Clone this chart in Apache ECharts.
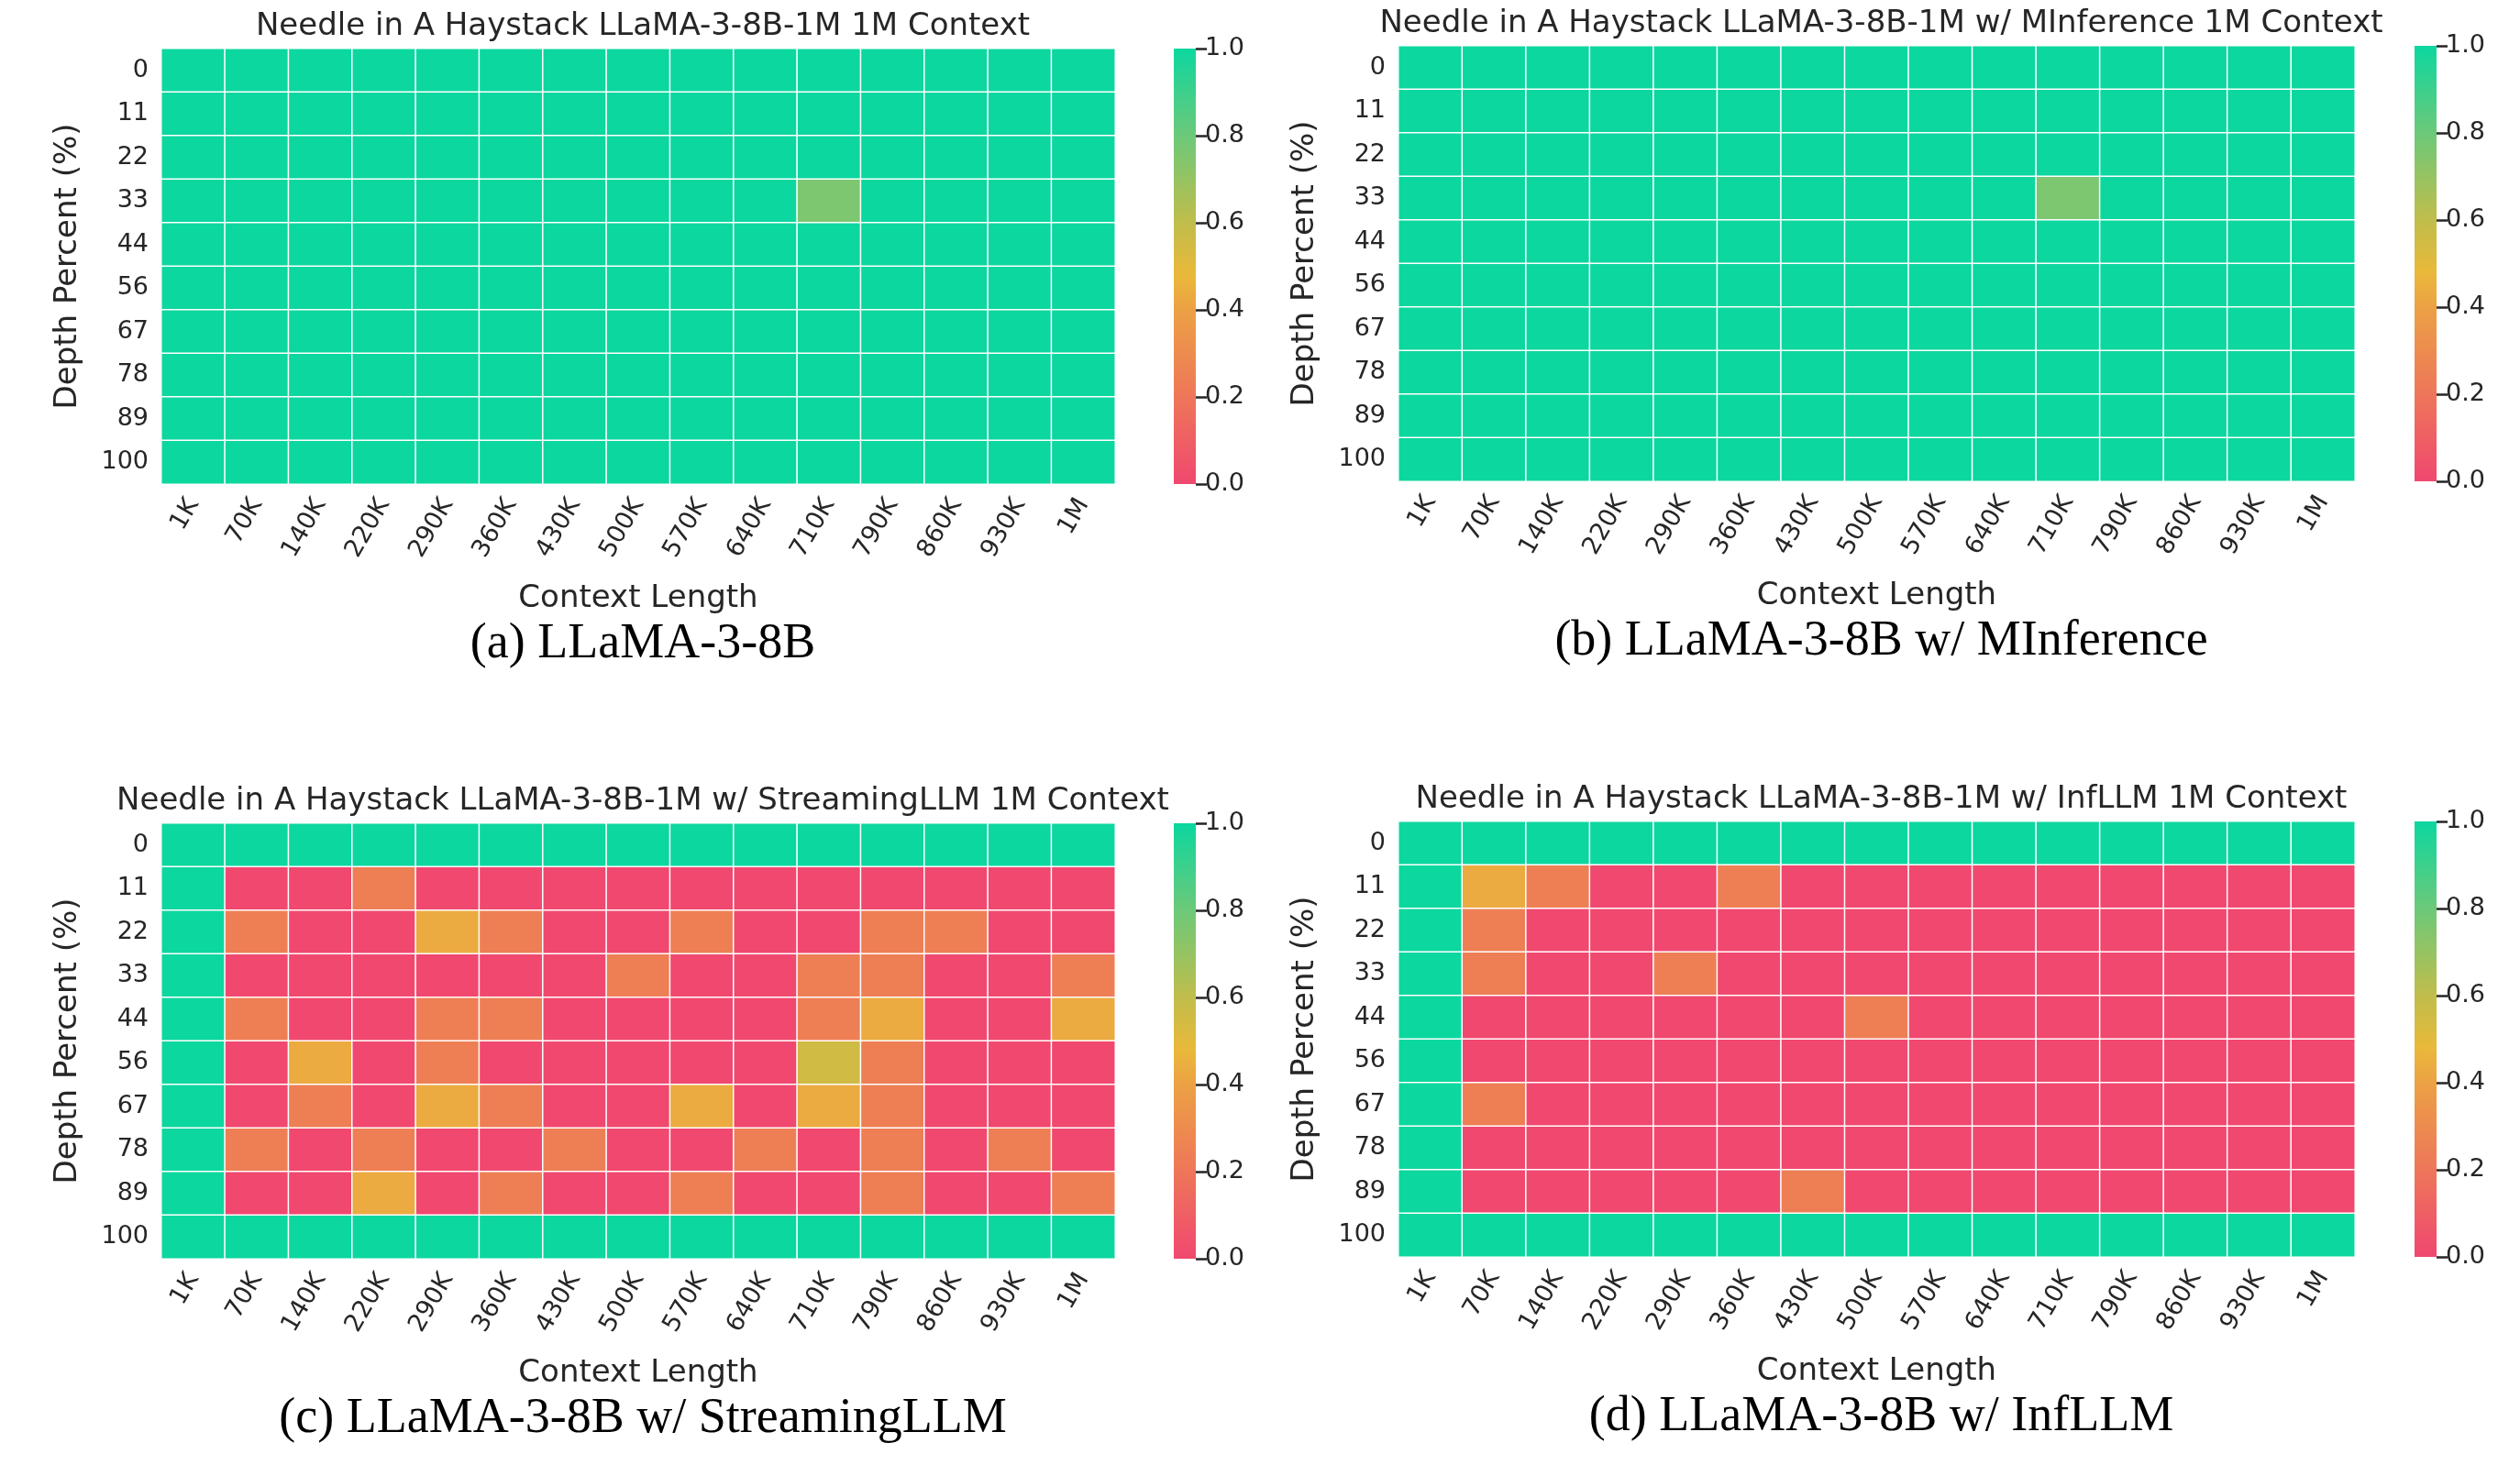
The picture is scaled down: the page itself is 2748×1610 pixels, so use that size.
<!DOCTYPE html>
<html>
<head>
<meta charset="utf-8">
<script src="https://cdn.jsdelivr.net/npm/echarts@6/dist/echarts.min.js"></script>
<style>
  html, body { margin: 0; padding: 0; background: #fff; }
  #chart { width: 2748px; height: 1610px; }
</style>
</head>
<body>
<div id="chart"></div>
<script>
const contextLengths = ['1K', '70K', '140K', '220K', '290K', '360K', '430K', '500K', '570K', '640K', '710K', '790K', '860K', '930K', '1M'];
const depthPercents = ['0', '11', '22', '33', '44', '56', '67', '78', '89', '100'];

// rows = depth, columns = context length
const scoresBase = [
  [1,1,1,1,1,1,1,1,1,1,1,1,1,1,1],
  [1,1,1,1,1,1,1,1,1,1,1,1,1,1,1],
  [1,1,1,1,1,1,1,1,1,1,1,1,1,1,1],
  [1,1,1,1,1,1,1,1,1,1,0.8,1,1,1,1],
  [1,1,1,1,1,1,1,1,1,1,1,1,1,1,1],
  [1,1,1,1,1,1,1,1,1,1,1,1,1,1,1],
  [1,1,1,1,1,1,1,1,1,1,1,1,1,1,1],
  [1,1,1,1,1,1,1,1,1,1,1,1,1,1,1],
  [1,1,1,1,1,1,1,1,1,1,1,1,1,1,1],
  [1,1,1,1,1,1,1,1,1,1,1,1,1,1,1]
];
const scoresMInference = [
  [1,1,1,1,1,1,1,1,1,1,1,1,1,1,1],
  [1,1,1,1,1,1,1,1,1,1,1,1,1,1,1],
  [1,1,1,1,1,1,1,1,1,1,1,1,1,1,1],
  [1,1,1,1,1,1,1,1,1,1,0.8,1,1,1,1],
  [1,1,1,1,1,1,1,1,1,1,1,1,1,1,1],
  [1,1,1,1,1,1,1,1,1,1,1,1,1,1,1],
  [1,1,1,1,1,1,1,1,1,1,1,1,1,1,1],
  [1,1,1,1,1,1,1,1,1,1,1,1,1,1,1],
  [1,1,1,1,1,1,1,1,1,1,1,1,1,1,1],
  [1,1,1,1,1,1,1,1,1,1,1,1,1,1,1]
];
const scoresStreaming = [
  [1,1,1,1,1,1,1,1,1,1,1,1,1,1,1],
  [1,0,0,0.2,0,0,0,0,0,0,0,0,0,0,0],
  [1,0.2,0,0,0.4,0.2,0,0,0.2,0,0,0.2,0.2,0,0],
  [1,0,0,0,0,0,0,0.2,0,0,0.2,0.2,0,0,0.2],
  [1,0.2,0,0,0.2,0.2,0,0,0,0,0.2,0.4,0,0,0.4],
  [1,0,0.4,0,0.2,0,0,0,0,0,0.6,0.2,0,0,0],
  [1,0,0.2,0,0.4,0.2,0,0,0.4,0,0.4,0.2,0,0,0],
  [1,0.2,0,0.2,0,0,0.2,0,0,0.2,0,0.2,0,0.2,0],
  [1,0,0,0.4,0,0.2,0,0,0.2,0,0,0.2,0,0,0.2],
  [1,1,1,1,1,1,1,1,1,1,1,1,1,1,1]
];
const scoresInfLLM = [
  [1,1,1,1,1,1,1,1,1,1,1,1,1,1,1],
  [1,0.4,0.2,0,0,0.2,0,0,0,0,0,0,0,0,0],
  [1,0.2,0,0,0,0,0,0,0,0,0,0,0,0,0],
  [1,0.2,0,0,0.2,0,0,0,0,0,0,0,0,0,0],
  [1,0,0,0,0,0,0,0.2,0,0,0,0,0,0,0],
  [1,0,0,0,0,0,0,0,0,0,0,0,0,0,0],
  [1,0.2,0,0,0,0,0,0,0,0,0,0,0,0,0],
  [1,0,0,0,0,0,0,0,0,0,0,0,0,0,0],
  [1,0,0,0,0,0,0.2,0,0,0,0,0,0,0,0],
  [1,1,1,1,1,1,1,1,1,1,1,1,1,1,1]
];
const colorbarTicks = [0, 0.2, 0.4, 0.6, 0.8, 1.0];

const palette = ['#f0486f', '#ee7659', '#eca144', '#e9b93a', '#c0bd4b', '#6cc979', '#0cd79f'];
const panels = [
  { title: 'Needle in A Haystack LLaMA-3-8B-1M 1M Context', caption: '(a) LLaMA-3-8B', data: scoresBase,
    left: 176, top: 53, width: 1040, height: 475, bar: 1280 },
  { title: 'Needle in A Haystack LLaMA-3-8B-1M w/ MInference 1M Context', caption: '(b) LLaMA-3-8B w/ MInference', data: scoresMInference,
    left: 1525, top: 50, width: 1043, height: 475, bar: 2633 },
  { title: 'Needle in A Haystack LLaMA-3-8B-1M w/ StreamingLLM 1M Context', caption: '(c) LLaMA-3-8B w/ StreamingLLM', data: scoresStreaming,
    left: 176, top: 898, width: 1040, height: 475, bar: 1280 },
  { title: 'Needle in A Haystack LLaMA-3-8B-1M w/ InfLLM 1M Context', caption: '(d) LLaMA-3-8B w/ InfLLM', data: scoresInfLLM,
    left: 1525, top: 896, width: 1043, height: 475, bar: 2633 }
];

const font = 'DejaVu Sans';
const textColor = '#262626';
const grid = [], xAxis = [], yAxis = [], series = [], visualMap = [], title = [];

panels.forEach((p, i) => {
  grid.push({ left: p.left, top: p.top, width: p.width, height: p.height });
  grid.push({ left: p.bar, top: p.top, width: 24, height: p.height });

  xAxis.push({
    type: 'category', gridIndex: 2 * i, data: contextLengths,
    name: 'Context Length', nameLocation: 'middle', nameGap: 108,
    nameTextStyle: { fontFamily: font, fontSize: 34, color: textColor },
    axisLine: { show: false },
    axisTick: { alignWithLabel: true, length: 12, lineStyle: { color: textColor, width: 2.5 } },
    axisLabel: { rotate: 60, fontFamily: font, fontSize: 27, color: textColor, margin: 18, interval: 0 },
    splitLine: { show: false }
  });
  yAxis.push({
    type: 'category', gridIndex: 2 * i, data: depthPercents, inverse: true,
    name: 'Depth Percent (%)', nameLocation: 'middle', nameGap: 85,
    nameTextStyle: { fontFamily: font, fontSize: 34, color: textColor },
    axisLine: { show: false },
    axisTick: { alignWithLabel: true, length: 12, lineStyle: { color: textColor, width: 2.5 } },
    axisLabel: { fontFamily: font, fontSize: 27, color: textColor, margin: 14 },
    splitLine: { show: false }
  });
  // colorbar axes
  xAxis.push({ type: 'category', gridIndex: 2 * i + 1, data: [''], show: false });
  yAxis.push({
    type: 'value', gridIndex: 2 * i + 1, min: 0, max: 1, interval: 0.2, position: 'right',
    axisLine: { show: false },
    axisTick: { show: true, length: 12, lineStyle: { color: textColor, width: 2.5 } },
    axisLabel: { fontFamily: font, fontSize: 27, color: textColor, margin: 10, formatter: v => v.toFixed(1) },
    splitLine: { show: false }
  });

  const cells = [];
  p.data.forEach((row, r) => row.forEach((v, c) => cells.push([c, r, v])));
  series.push({
    type: 'heatmap', xAxisIndex: 2 * i, yAxisIndex: 2 * i, data: cells,
    itemStyle: { borderColor: '#ffffff', borderWidth: 1.5 },
    emphasis: { disabled: true }
  });
  series.push({
    type: 'bar', xAxisIndex: 2 * i + 1, yAxisIndex: 2 * i + 1, data: [colorbarTicks[colorbarTicks.length - 1]],
    barWidth: '100%', silent: true,
    itemStyle: {
      color: new echarts.graphic.LinearGradient(0, 1, 0, 0,
        palette.map((c, k) => ({ offset: [0, 0.2, 0.4, 0.48, 0.6, 0.8, 1][k], color: c })))
    }
  });
  visualMap.push({
    show: false, type: 'continuous', min: 0, max: 1, seriesIndex: 2 * i,
    inRange: { color: palette }
  });

  title.push({
    text: p.title, left: p.left + p.width / 2, top: p.top - 46, textAlign: 'center',
    textStyle: { fontFamily: font, fontSize: 34, fontWeight: 'normal', color: textColor }
  });
  title.push({
    text: p.caption, left: p.left + p.width / 2, top: p.top + 618, textAlign: 'center',
    textStyle: { fontFamily: 'Liberation Serif', fontSize: 54, fontWeight: 'normal', color: '#000' }
  });
});

const myChart = echarts.init(document.getElementById('chart'), null, { renderer: 'canvas' });
myChart.setOption({
  animation: false,
  backgroundColor: '#ffffff',
  title, grid, xAxis, yAxis, visualMap, series
});
</script>
</body>
</html>
